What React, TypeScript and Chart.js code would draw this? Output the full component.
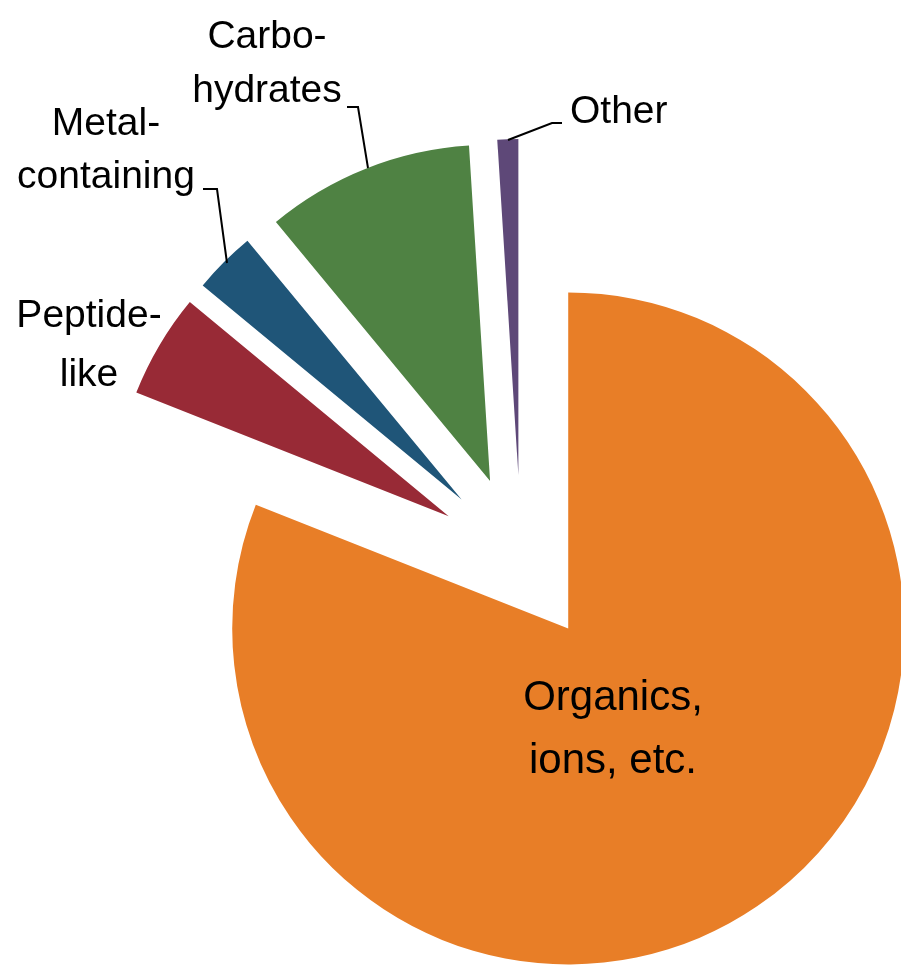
import { useEffect, useRef } from 'react';
import { Chart, registerables } from 'chart.js';

Chart.register(...registerables);

// Ligand categories and their share of the total (percent)
const categories = ['Organics, ions, etc.', 'Peptide-like', 'Metal-containing', 'Carbohydrates', 'Other'];
const shares = [81, 5, 3, 10, 1];
const labelLines = [
  ['Organics,', 'ions, etc.'],
  ['Peptide-', 'like'],
  ['Metal-', 'containing'],
  ['Carbo-', 'hydrates'],
  ['Other'],
];
const sliceColors = ['#E87E27', '#982A36', '#1F5578', '#4F8243', '#5E4878'];

// Layout
const W = 901;
const H = 965;
const PIE_RADIUS = 336;
const EXPLODE = 84;
const CENTER = { x: 521, y: 559 };
const FONT = '"Liberation Sans", Arial, sans-serif';

const labelLayout = [
  { x: 613, y: 710, lineHeight: 63, size: 42, align: 'center' },
  { x: 89, y: 327, lineHeight: 59, size: 39, align: 'center' },
  { x: 106, y: 135, lineHeight: 53, size: 39, align: 'center' },
  { x: 267, y: 48, lineHeight: 54, size: 39, align: 'center' },
  { x: 570, y: 123, lineHeight: 0, size: 39, align: 'left' },
];

const leaderLines: (number[][] | null)[] = [
  null,
  null,
  [[203, 189], [217, 189], [227, 263]],
  [[347, 107], [358, 107], [368, 168]],
  [[562, 123], [552, 123], [508, 140]],
];

// Pull every slice away from the common centre along its bisector
const explodePlugin = {
  id: 'explodeSlices',
  afterDatasetUpdate(chart: any, args: any) {
    const meta = chart.getDatasetMeta(args.index);
    meta.data.forEach((arc: any) => {
      const mid = (arc.startAngle + arc.endAngle) / 2;
      arc.x += Math.cos(mid) * EXPLODE;
      arc.y += Math.sin(mid) * EXPLODE;
    });
  },
};

// Category labels with leader lines
const labelPlugin = {
  id: 'sliceLabels',
  afterDatasetsDraw(chart: any) {
    const ctx = chart.ctx;
    ctx.save();
    ctx.fillStyle = '#000';
    ctx.strokeStyle = '#000';
    ctx.lineWidth = 2;
    ctx.textBaseline = 'alphabetic';
    labelLines.forEach((lines, i) => {
      const l = labelLayout[i];
      ctx.font = `${l.size}px ${FONT}`;
      ctx.textAlign = l.align;
      lines.forEach((t, j) => ctx.fillText(t, l.x, l.y + j * l.lineHeight));
      const pts = leaderLines[i];
      if (pts) {
        ctx.beginPath();
        ctx.moveTo(pts[0][0], pts[0][1]);
        for (let k = 1; k < pts.length; k++) ctx.lineTo(pts[k][0], pts[k][1]);
        ctx.stroke();
      }
    });
    ctx.restore();
  },
};

export default function App() {
  const canvasRef = useRef<HTMLCanvasElement | null>(null);

  useEffect(() => {
    const canvas = canvasRef.current;
    if (!canvas) return;
    const chart = new Chart(canvas, {
      type: 'pie',
      data: {
        labels: categories,
        datasets: [
          {
            data: shares,
            backgroundColor: sliceColors,
            borderWidth: 0,
            radius: PIE_RADIUS,
          } as any,
        ],
      },
      options: {
        responsive: false,
        animation: false,
        events: [],
        rotation: 0,
        layout: {
          padding: {
            left: 2 * CENTER.x - W,
            top: 2 * CENTER.y - H,
            right: 0,
            bottom: 0,
          },
        },
        plugins: {
          legend: { display: false },
          tooltip: { enabled: false },
          title: { display: false },
        },
      },
      plugins: [explodePlugin, labelPlugin],
    });
    return () => chart.destroy();
  }, []);

  return (
    <div style={{ position: 'fixed', left: 0, top: 0, width: W, height: H, background: '#fff' }}>
      <canvas ref={canvasRef} width={W} height={H} style={{ display: 'block', width: W, height: H }} />
    </div>
  );
}
